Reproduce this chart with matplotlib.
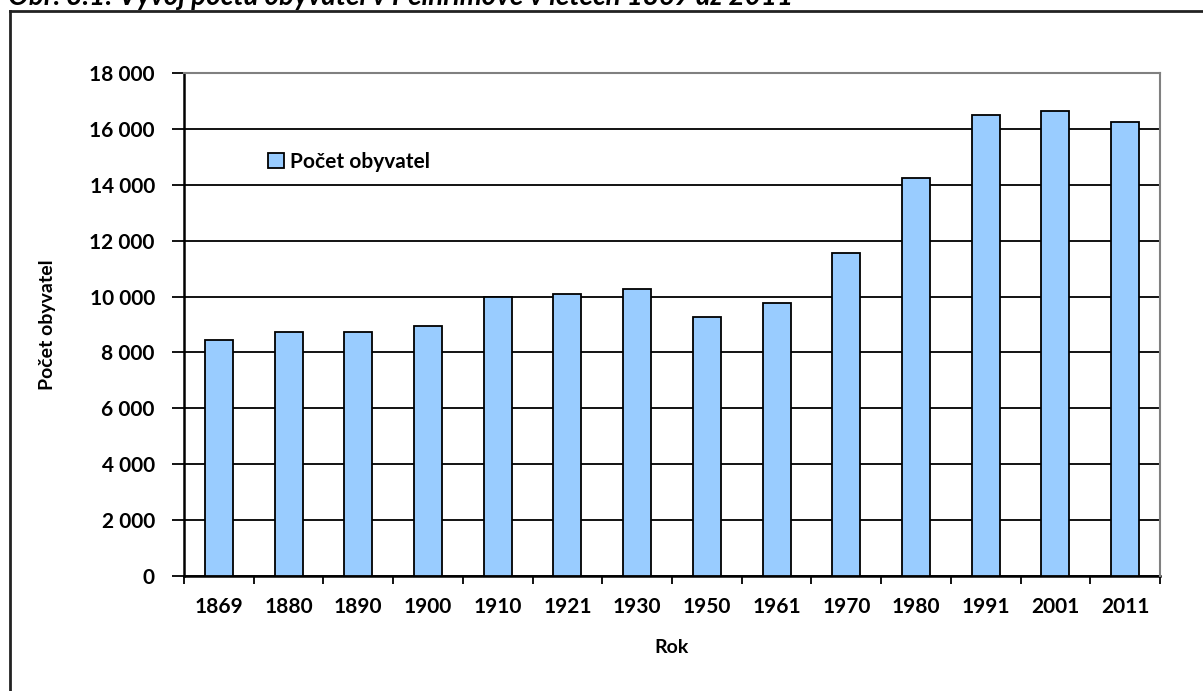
import matplotlib
matplotlib.use("Agg")
import matplotlib.pyplot as plt
from matplotlib.lines import Line2D
from matplotlib.ticker import FuncFormatter

plt.rcParams['font.family'] = ['Lato', 'DejaVu Sans']
plt.rcParams['font.weight'] = 'bold'

# data
years = ['1869', '1880', '1890', '1900', '1910', '1921', '1930',
         '1950', '1961', '1970', '1980', '1991', '2001', '2011']
population = [8430, 8740, 8740, 8950, 9970, 10090, 10280,
              9260, 9770, 11560, 14240, 16500, 16630, 16250]
y_ticks = [0, 2000, 4000, 6000, 8000, 10000, 12000, 14000, 16000, 18000]

W, H = 1203, 691
fig = plt.figure(figsize=(W / 100, H / 100), dpi=100)
ax = fig.add_axes([184 / W, 1 - 576 / H, (1160 - 184) / W, (576 - 73) / H])

x = list(range(len(years)))
ax.bar(x, population, width=0.4, color='#99ccff', edgecolor='black',
       linewidth=1.3, label='Počet obyvatel', zorder=3)

ax.set_xlim(-0.5, len(years) - 0.5)
ax.set_ylim(0, 18000)
ax.set_yticks(y_ticks)
ax.yaxis.set_major_formatter(FuncFormatter(lambda v, p: f"{int(v):,}".replace(',', ' ')))
ax.yaxis.grid(True, color='black', linewidth=1.3)
ax.set_axisbelow(True)
ax.tick_params(axis='y', length=9, width=1.3, direction='out', labelsize=15, pad=12)

ax.set_xticks(x)
ax.set_xticklabels(years)
ax.set_xticks([i - 0.5 for i in range(len(years) + 1)], minor=True)
ax.tick_params(axis='x', which='major', length=0, labelsize=15, pad=15)
ax.tick_params(axis='x', which='minor', length=6, width=1.3, direction='out')

for s in ['left', 'bottom']:
    ax.spines[s].set_linewidth(1.8)
    ax.spines[s].set_color('black')
for s in ['top', 'right']:
    ax.spines[s].set_linewidth(1.5)
    ax.spines[s].set_color('#808080')
    ax.spines[s].set_zorder(4)

ax.set_xlabel('Rok', fontsize=14, fontweight='bold', labelpad=16)
ax.set_ylabel('Počet obyvatel', fontsize=14, fontweight='bold', labelpad=24)

leg = ax.legend(loc='upper left', bbox_to_anchor=(0.078, 0.86), frameon=False,
                fontsize=15, handlelength=0.75, handleheight=0.75,
                handletextpad=0.3, borderaxespad=0)

# outer frame of the original figure
fig.add_artist(Line2D([10 / W, 10 / W], [-0.1, 1 - 11 / H], transform=fig.transFigure,
                      color='#222222', linewidth=2))
fig.add_artist(Line2D([10 / W, 1.1], [1 - 11 / H, 1 - 11 / H], transform=fig.transFigure,
                      color='#222222', linewidth=2))

# title, cut off at the top in the source image
fig.text(8 / W, 1 - 5 / H, 'Obr. 3.1: Vývoj počtu obyvatel v Pelhřimově v letech 1869 až 2011',
         fontsize=20, fontweight='bold', fontstyle='italic', va='baseline', ha='left')

fig.savefig('out.png', dpi=100)
